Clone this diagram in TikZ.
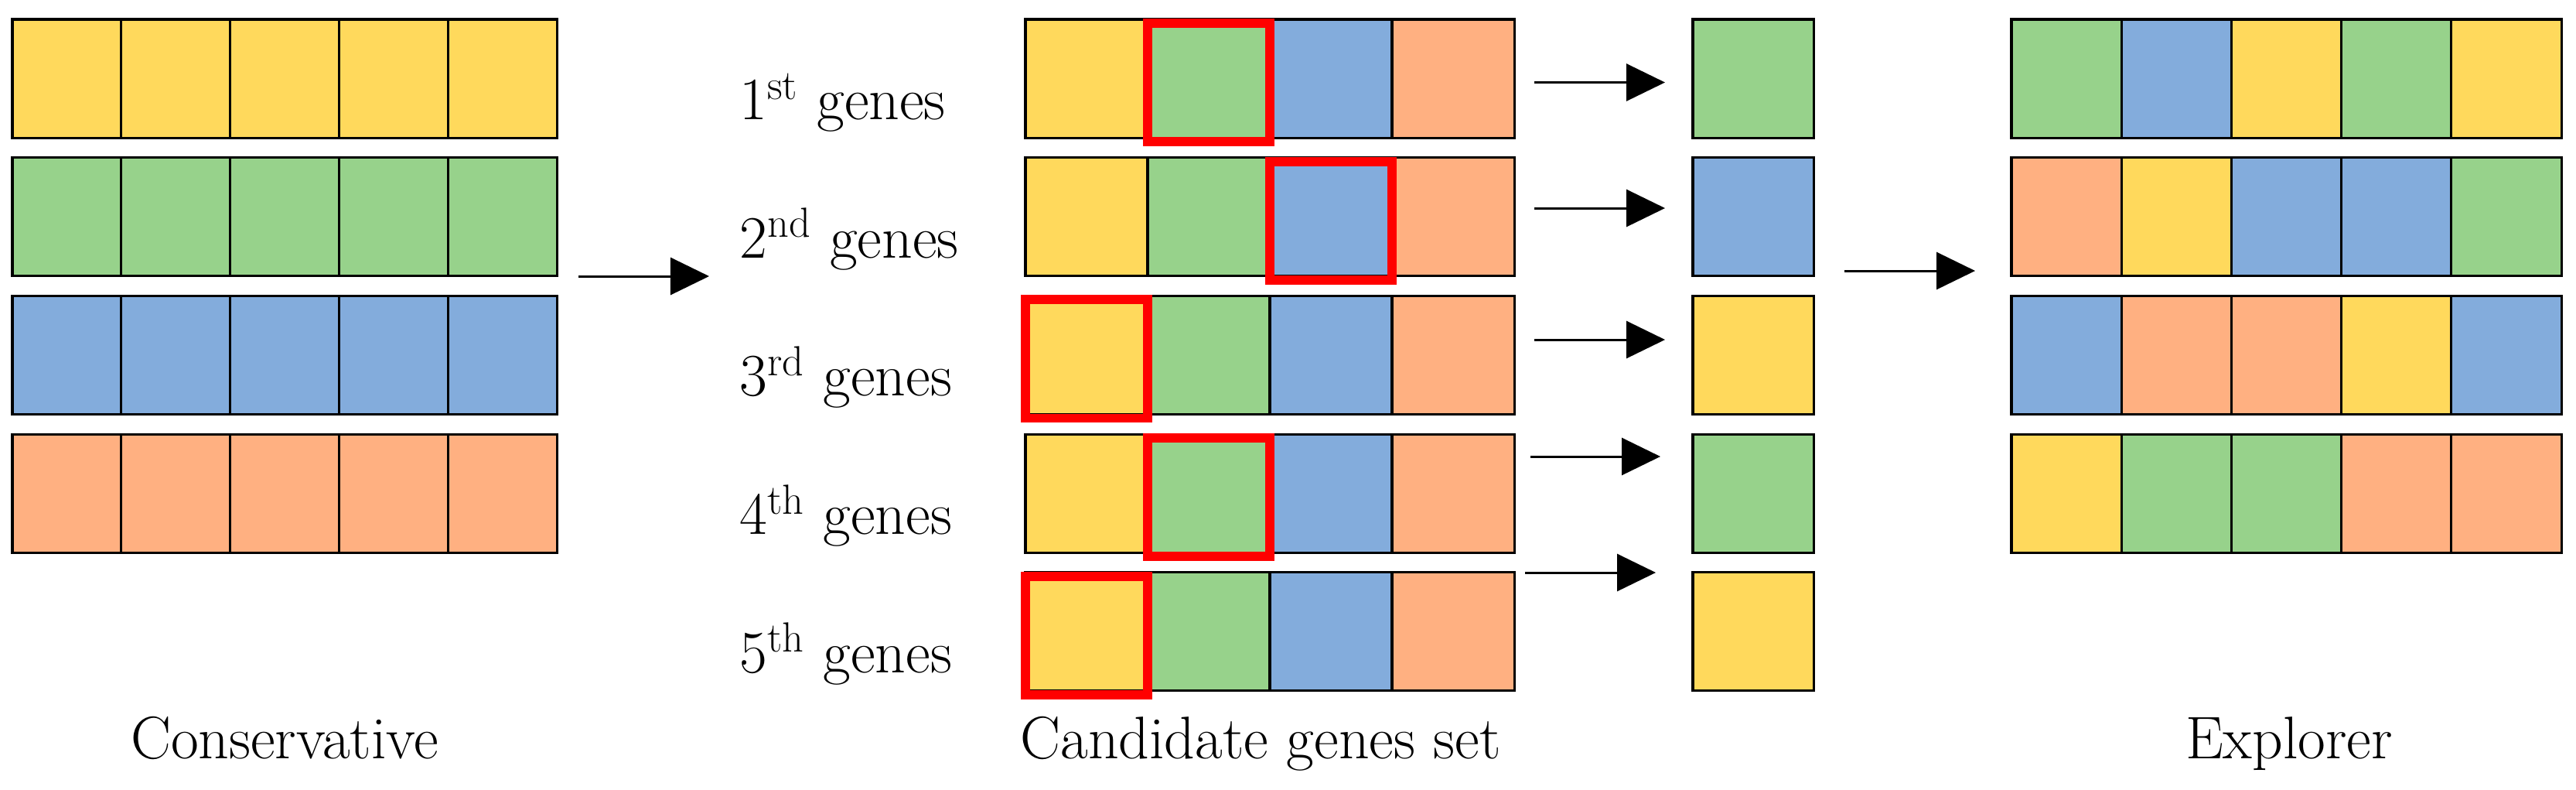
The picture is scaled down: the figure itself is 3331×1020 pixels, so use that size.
\documentclass[tikz,border=0pt]{standalone}
\usetikzlibrary{arrows.meta,calc}
\definecolor{cy}{HTML}{FFD95C}
\definecolor{cg}{HTML}{97D28B}
\definecolor{cb}{HTML}{83ACDC}
\definecolor{co}{HTML}{FFB081}
\definecolor{selred}{HTML}{FF0000}
\tikzset{
  cell/.style={draw=black, line width=0.9pt, inner sep=0pt, outer sep=0pt, anchor=north west, minimum height=1.53cm},
  conscell/.style={cell, minimum width=1.408cm},
  candcell/.style={cell, minimum width=1.58cm},
  pickcell/.style={cell, minimum width=1.56cm},
  explcell/.style={cell, minimum width=1.422cm},
  selbox/.style={draw=selred, line width=3.4pt},
  lab/.style={inner sep=0pt, font=\fontsize{22.1}{26}\selectfont},
  arr/.style={line width=0.85pt, -{Triangle[length=0.5cm,width=0.48cm]}}
}
\begin{document}
\begin{tikzpicture}[x=0.01cm,y=-0.01cm]
\useasboundingbox (0,0) rectangle (3331,1020);
% Conservative
\foreach \r/\col in {0/cy,1/cg,2/cb,3/co}{
  \foreach \c in {0,...,4}{
    \node[conscell, fill=\col] (cons-\r-\c) at ({16+140.8*\c},{25+178.7*\r}) {};
  }
}
% Candidate genes set
\foreach \r in {0,...,4}{
  \foreach \c/\col in {0/cy,1/cg,2/cb,3/co}{
    \node[candcell, fill=\col] (cand-\r-\c) at ({1326+158*\c},{25+178.7*\r}) {};
  }
}
\foreach \r/\c in {0/1,1/2,2/0,3/1,4/0}{
  \draw[selbox] ($(cand-\r-\c.north west)+(0,5)$) rectangle ($(cand-\r-\c.south east)+(0,5)$);
}
% Picked genes
\foreach \r/\col in {0/cg,1/cb,2/cy,3/cg,4/cy}{
  \node[pickcell, fill=\col] (pick-\r) at (2189,{25+178.7*\r}) {};
}
% Explorer
\foreach \r/\lst in {0/{cg,cb,cy,cg,cy},1/{co,cy,cb,cb,cg},2/{cb,co,co,cy,cb},3/{cy,cg,cg,co,co}}{
  \foreach \col [count=\c from 0] in \lst{
    \node[explcell, fill=\col] (expl-\r-\c) at ({2601+142.2*\c},{25+178.7*\r}) {};
  }
}
% Row labels
\node[lab, anchor=base west] (g1) at (956,154.5) {1\textsuperscript{st} genes};
\node[lab, anchor=base west] (g2) at (956,333.2) {2\textsuperscript{nd} genes};
\node[lab, anchor=base west] (g3) at (956,511.9) {3\textsuperscript{rd} genes};
\node[lab, anchor=base west] (g4) at (956,690.6) {4\textsuperscript{th} genes};
\node[lab, anchor=base west] (g5) at (956,869.3) {5\textsuperscript{th} genes};
% Bottom labels
\node[lab, anchor=base] (tcons) at (368,980) {Conservative};
\node[lab, anchor=base] (tcand) at (1630,980) {Candidate genes set};
\node[lab, anchor=base] (texpl) at (2960,980) {Explorer};
% Arrows
\coordinate (m1s) at (748,357);
\coordinate (m1e) at (917,357);
\draw[arr] (m1s) -- (m1e);
\coordinate (m2s) at (2385,350);
\coordinate (m2e) at (2554,350);
\draw[arr] (m2s) -- (m2e);
\coordinate (a0s) at (1984,106.5); \coordinate (a0e) at (2153,106.5);
\coordinate (a1s) at (1984,269);   \coordinate (a1e) at (2153,269);
\coordinate (a2s) at (1984,439);   \coordinate (a2e) at (2153,439);
\coordinate (a3s) at (1979,590);   \coordinate (a3e) at (2147,590);
\coordinate (a4s) at (1972,740);   \coordinate (a4e) at (2141,740);
\foreach \i in {0,...,4}{
  \draw[arr] (a\i s) -- (a\i e);
}
\end{tikzpicture}
\end{document}
